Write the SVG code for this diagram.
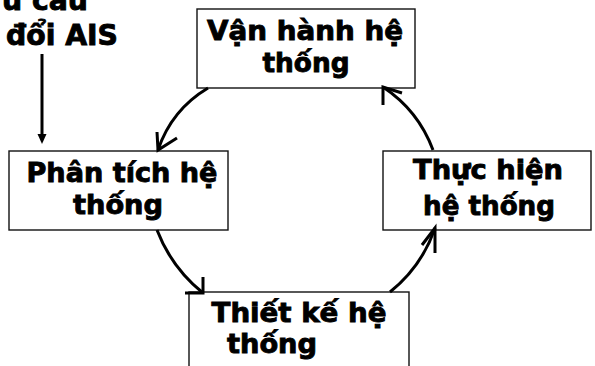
<svg xmlns="http://www.w3.org/2000/svg" width="595" height="366" viewBox="0 0 595 366">
<style>
.box{fill:#fff;stroke:#111;stroke-width:1.4}
.t{font-family:"DejaVu Sans","Liberation Sans",sans-serif;font-weight:bold;font-size:27px;fill:#000;stroke:#000;stroke-width:0.9;text-anchor:middle}
.lbl{font-family:"DejaVu Sans","Liberation Sans",sans-serif;font-weight:bold;font-size:28px;fill:#000;stroke:#000;stroke-width:0.9}
.c{fill:none;stroke:#000;stroke-width:3}
.ah{fill:none;stroke:#000;stroke-width:3;stroke-linecap:butt;stroke-linejoin:miter}
</style>
<rect width="595" height="366" fill="#fff"/>
<g id="label-ais">
<text class="lbl" x="88" y="10" text-anchor="end" textLength="86" lengthAdjust="spacingAndGlyphs">u cầu</text>
<text class="lbl" x="6" y="45" textLength="112" lengthAdjust="spacingAndGlyphs">đổi AIS</text>
</g>
<g id="node-van-hanh">
<rect class="box" x="197" y="9" width="218" height="79"/>
<text class="t" x="305" y="40" textLength="196" lengthAdjust="spacingAndGlyphs">Vận hành hệ</text>
<text class="t" x="306" y="72" textLength="87" lengthAdjust="spacingAndGlyphs">thống</text>
</g>
<g id="node-phan-tich">
<rect class="box" x="9" y="151" width="219" height="79"/>
<text class="t" x="122" y="182" textLength="191" lengthAdjust="spacingAndGlyphs">Phân tích hệ</text>
<text class="t" x="118" y="214" textLength="90" lengthAdjust="spacingAndGlyphs">thống</text>
</g>
<g id="node-thuc-hien">
<rect class="box" x="383" y="151" width="208" height="79"/>
<text class="t" x="488" y="179" textLength="150" lengthAdjust="spacingAndGlyphs">Thực hiện</text>
<text class="t" x="489" y="215" textLength="132" lengthAdjust="spacingAndGlyphs">hệ thống</text>
</g>
<g id="node-thiet-ke">
<rect class="box" x="189" y="292" width="220" height="90"/>
<text class="t" x="299" y="322" textLength="175" lengthAdjust="spacingAndGlyphs">Thiết kế hệ</text>
<text class="t" x="272" y="353" textLength="90" lengthAdjust="spacingAndGlyphs">thống</text>
</g>
<g id="connectors">
<line x1="42" y1="54" x2="42" y2="136" stroke="#000" stroke-width="3"/>
<polygon points="37.5,134 46.5,134 42,144" fill="#000"/>
<path class="c" d="M208,88 A115,115 0 0 0 158,150"/>
<polyline class="ah" points="157,132 158,150 177,138"/>
<path class="c" d="M157,230 A150,150 0 0 0 203,293"/>
<polyline class="ah" points="203,277 203,293 185,293"/>
<path class="c" d="M390,292 A140,140 0 0 0 435,228"/>
<polyline class="ah" points="435,253 435,228 422,245"/>
<path class="c" d="M433,150 A130,130 0 0 0 383,87"/>
<polyline class="ah" points="383,105 383,87 402,93"/>
</g>
</svg>
